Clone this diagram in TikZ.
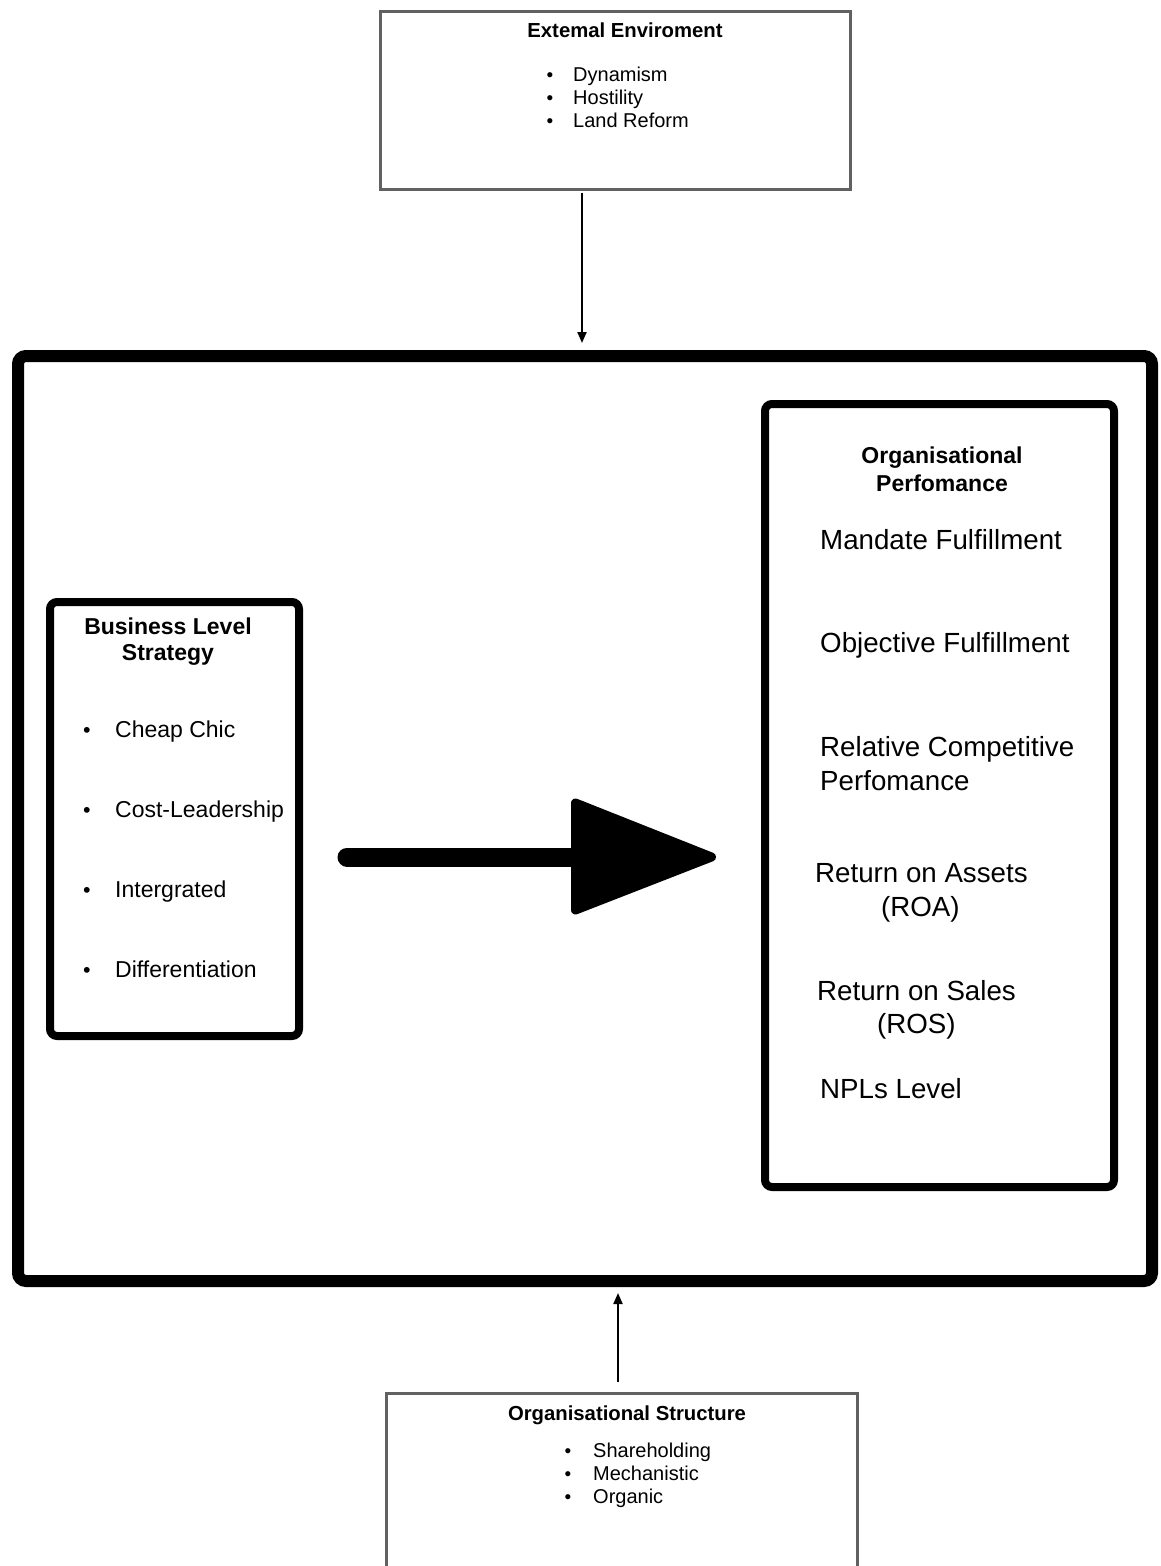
\documentclass[tikz,border=0pt]{standalone}
\usepackage{fontspec}
\setmainfont{Liberation Sans}
\usetikzlibrary{arrows.meta}
\begin{document}
\begin{tikzpicture}[x=1pt,y=-1pt,
  thinbox/.style={draw=black!62, line width=3pt, inner sep=0pt, outer sep=0pt},
  thickbox/.style={draw=black, line width=8pt, rounded corners=7pt, inner sep=0pt, outer sep=0pt},
  outerbox/.style={draw=black, line width=12pt, rounded corners=8pt, inner sep=0pt, outer sep=0pt},
  smalltitle/.style={inner sep=0pt, anchor=base, font=\fontsize{20.3}{24}\selectfont\bfseries},
  smallitem/.style={inner sep=0pt, anchor=base west, font=\fontsize{20}{24}\selectfont},
  smallbullet/.style={inner sep=0pt, anchor=base, font=\fontsize{19}{24}\selectfont},
  bigtitle/.style={inner sep=0pt, anchor=base, font=\fontsize{23}{27}\selectfont\bfseries},
  biggitem/.style={inner sep=0pt, anchor=base west, font=\fontsize{23}{27}\selectfont},
  biggbullet/.style={inner sep=0pt, anchor=base, font=\fontsize{21.5}{26}\selectfont},
  metric/.style={inner sep=0pt, anchor=base west, font=\fontsize{27.7}{32}\selectfont},
  conn/.style={draw=black, line width=2pt, -{Triangle[length=11pt,width=9pt]}},
  shaft/.style={draw=black, line width=19pt, line cap=round},
  bighead/.style={fill=black, draw=black, line width=9pt, line join=round}
]
\useasboundingbox (0,0) rectangle (1160,1566);

% boxes
\node[thinbox, minimum width=470pt, minimum height=178pt] (env) at (615,100.5) {};
\node[outerbox, minimum width=1134pt, minimum height=925pt] (frame) at (585,818.5) {};
\node[thickbox, minimum width=249pt, minimum height=434pt] (bls) at (174.5,819) {};
\node[thickbox, minimum width=349pt, minimum height=783pt] (perf) at (939.5,795.5) {};
\node[thinbox, minimum width=471pt, minimum height=306pt] (org) at (621.5,1546.5) {};

% top box text
\node[smalltitle] (envt) at (625,37) {Extemal Enviroment};
\node[smallbullet] (envb1) at (550,81) {\textbullet};
\node[smallitem] (env1) at (573,81) {Dynamism};
\node[smallbullet] (envb2) at (550,104) {\textbullet};
\node[smallitem] (env2) at (573,104) {Hostility};
\node[smallbullet] (envb3) at (550,127) {\textbullet};
\node[smallitem] (env3) at (573,127) {Land Reform};

% bottom box text
\node[smalltitle] (orgt) at (627,1420) {Organisational Structure};
\node[smallbullet] (orgb1) at (568,1457) {\textbullet};
\node[smallitem] (org1) at (593,1457) {Shareholding};
\node[smallbullet] (orgb2) at (568,1480) {\textbullet};
\node[smallitem] (org2) at (593,1480) {Mechanistic};
\node[smallbullet] (orgb3) at (568,1503) {\textbullet};
\node[smallitem] (org3) at (593,1503) {Organic};

% left box text
\node[bigtitle] (blst1) at (168,634) {Business Level};
\node[bigtitle] (blst2) at (168,660) {Strategy};
\node[biggbullet] (blsb1) at (87,737) {\textbullet};
\node[biggitem] (bls1) at (115,737) {Cheap Chic};
\node[biggbullet] (blsb2) at (87,817) {\textbullet};
\node[biggitem] (bls2) at (115,817) {Cost-Leadership};
\node[biggbullet] (blsb3) at (87,897) {\textbullet};
\node[biggitem] (bls3) at (115,897) {Intergrated};
\node[biggbullet] (blsb4) at (87,977) {\textbullet};
\node[biggitem] (bls4) at (115,977) {Differentiation};

% right box text
\node[bigtitle] (perft1) at (942,463) {Organisational};
\node[bigtitle] (perft2) at (942,491) {Perfomance};
\node[metric] (m1) at (820,549) {Mandate Fulfillment};
\node[metric] (m2) at (820,652) {Objective Fulfillment};
\node[metric] (m3a) at (820,756) {Relative Competitive};
\node[metric] (m3b) at (820,790) {Perfomance};
\node[metric] (m4a) at (815,882) {Return on Assets};
\node[metric] (m4b) at (881,916) {(ROA)};
\node[metric] (m5a) at (817,1000) {Return on Sales};
\node[metric] (m5b) at (877,1033) {(ROS)};
\node[metric] (m6) at (820,1098) {NPLs Level};

% connectors
\coordinate (envx) at (582,0);
\coordinate (orgx) at (618,0);
\draw[conn, shorten <=3pt, shorten >=13pt] (env.south -| envx) -- (frame.north -| envx);
\draw[conn, shorten <=12pt, shorten >=12pt] (org.north -| orgx) -- (frame.south -| orgx);

% big arrow
\coordinate (bs) at (347,857);
\coordinate (be) at (590,857);
\draw[shaft] (bs) -- (be);
\filldraw[bighead] (575.5,803) -- (711.5,857) -- (575.5,910) -- cycle;
\end{tikzpicture}
\end{document}
